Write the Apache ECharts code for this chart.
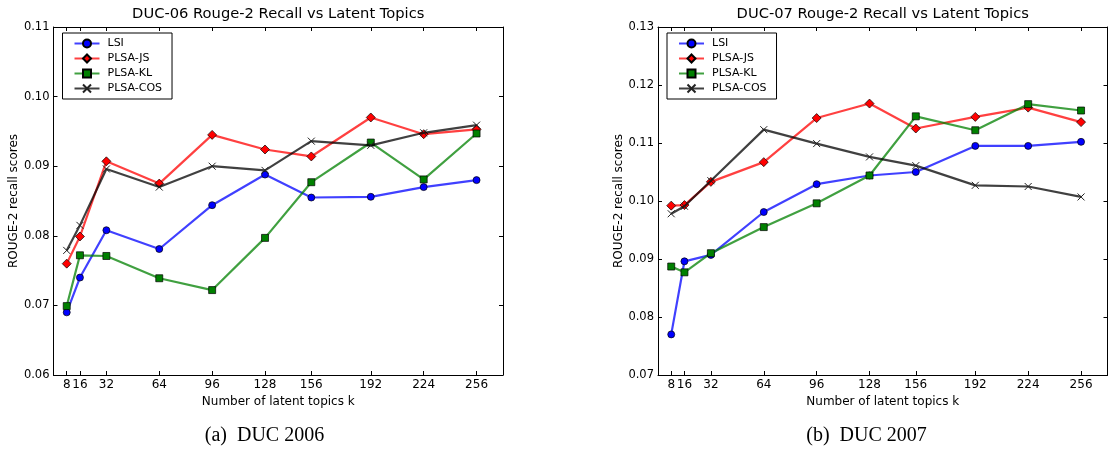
<!DOCTYPE html>
<html>
<head>
<meta charset="utf-8">
<script src="https://cdn.jsdelivr.net/npm/echarts@6/dist/echarts.min.js"></script>
<style>
html,body{margin:0;padding:0;background:#fff;}
#chart{width:1109px;height:450px;}
</style>
</head>
<body>
<div id="chart"></div>
<script>
// ---- data ----
const topics = [8, 16, 32, 64, 96, 128, 156, 192, 224, 256];
const seriesNames = ['LSI', 'PLSA-JS', 'PLSA-KL', 'PLSA-COS'];

// DUC 2006
const duc06_LSI    = [0.0690, 0.0740, 0.0808, 0.0781, 0.0844, 0.0888, 0.0855, 0.0856, 0.0870, 0.0880];
const duc06_PLSAJS = [0.0760, 0.0799, 0.0907, 0.0875, 0.0945, 0.0924, 0.0914, 0.0970, 0.0946, 0.0953];
const duc06_PLSAKL = [0.0699, 0.0772, 0.0771, 0.0739, 0.0722, 0.0797, 0.0877, 0.0934, 0.0881, 0.0947];
const duc06_PLSACOS= [0.0779, 0.0815, 0.0896, 0.0870, 0.0900, 0.0894, 0.0936, 0.0930, 0.0948, 0.0959];

// DUC 2007
const duc07_LSI    = [0.0770, 0.0896, 0.0907, 0.0981, 0.1029, 0.1044, 0.1050, 0.1095, 0.1095, 0.1102];
const duc07_PLSAJS = [0.0992, 0.0993, 0.1033, 0.1067, 0.1143, 0.1168, 0.1125, 0.1145, 0.1161, 0.1136];
const duc07_PLSAKL = [0.0887, 0.0877, 0.0910, 0.0955, 0.0996, 0.1044, 0.1146, 0.1122, 0.1167, 0.1156];
const duc07_PLSACOS= [0.0978, 0.0991, 0.1035, 0.1123, 0.1099, 0.1076, 0.1061, 0.1027, 0.1025, 0.1007];

const titles = ['DUC-06 Rouge-2 Recall vs Latent Topics', 'DUC-07 Rouge-2 Recall vs Latent Topics'];
const captions = ['(a)  DUC 2006', '(b)  DUC 2007'];
const xAxisName = 'Number of latent topics k';
const yAxisName = 'ROUGE-2 recall scores';
const yRanges = [[0.06, 0.11], [0.07, 0.13]];

// ---- styles ----
const FONT = 'DejaVu Sans';
const styles = [
  {color: '#0000ff', symbol: 'circle', size: 7},
  {color: '#ff0000', symbol: 'diamond', size: 9},
  {color: '#008000', symbol: 'rect', size: 7},
  {color: '#000000', symbol: 'path://M0,0L10,10M10,0L0,10', size: 7}
];
const grids = [
  {left: 53.5, top: 27, width: 449.5, height: 348},
  {left: 658, top: 27, width: 449.5, height: 348}
];

const xAxes = [], yAxes = [], series = [];
grids.forEach((g, gi) => {
  const baseX = {
    type: 'value', gridIndex: gi, min: 0, max: 272,
    splitLine: {show: false},
    axisLine: {show: true, onZero: false, lineStyle: {color: '#000', width: 1}},
    axisTick: {show: true, inside: true, length: 4, customValues: topics, lineStyle: {color: '#000'}}
  };
  xAxes.push(Object.assign({}, baseX, {
    position: 'bottom',
    name: xAxisName, nameLocation: 'middle', nameGap: 16,
    nameTextStyle: {fontFamily: FONT, fontSize: 12, color: '#000'},
    axisLabel: {show: true, customValues: topics, margin: 4, fontFamily: FONT, fontSize: 12, color: '#000',
      formatter: v => String(v)}
  }));
  xAxes.push(Object.assign({}, baseX, {position: 'top', axisLabel: {show: false}}));
  const baseY = {
    type: 'value', gridIndex: gi, min: yRanges[gi][0], max: yRanges[gi][1], interval: 0.01,
    splitLine: {show: false},
    axisLine: {show: true, onZero: false, lineStyle: {color: '#000', width: 1}},
    axisTick: {show: true, inside: true, length: 4, lineStyle: {color: '#000'}}
  };
  yAxes.push(Object.assign({}, baseY, {
    position: 'left',
    name: yAxisName, nameLocation: 'middle', nameGap: 33, nameRotate: 90,
    nameTextStyle: {fontFamily: FONT, fontSize: 12, color: '#000'},
    axisLabel: {show: true, margin: 4, fontFamily: FONT, fontSize: 11.5, color: '#000',
      formatter: v => v.toFixed(2)}
  }));
  yAxes.push(Object.assign({}, baseY, {position: 'right', axisLabel: {show: false}}));
});

const allData = [
  [duc06_LSI, duc06_PLSAJS, duc06_PLSAKL, duc06_PLSACOS],
  [duc07_LSI, duc07_PLSAJS, duc07_PLSAKL, duc07_PLSACOS]
];
allData.forEach((set, gi) => {
  set.forEach((vals, si) => {
    const st = styles[si];
    const isX = si === 3;
    series.push({
      type: 'line', name: seriesNames[si],
      xAxisIndex: gi * 2, yAxisIndex: gi * 2,
      data: topics.map((t, i) => [t, vals[i]]),
      symbol: st.symbol, symbolSize: st.size,
      showSymbol: true, animation: false,
      lineStyle: {color: st.color, width: 2.2, opacity: 0.75},
      itemStyle: isX
        ? {color: 'rgba(0,0,0,0)', borderColor: '#222', borderWidth: 1}
        : {color: st.color, borderColor: '#000', borderWidth: 0.7},
      emphasis: {disabled: true},
      z: 2 + si
    });
  });
});

const legends = grids.map((g, gi) => ({
  orient: 'vertical',
  left: g.left + 9, top: 33,
  padding: [5, 10, 5, 11],
  itemWidth: 25, itemHeight: 10, itemGap: 4,
  borderColor: '#000', borderWidth: 1, borderRadius: 0,
  backgroundColor: '#fff',
  textStyle: {fontFamily: FONT, fontSize: 11, color: '#000', lineHeight: 11, padding: [0, 0, 0, 3]},
  data: seriesNames,
  selectedMode: false
}));

const titleArr = [];
grids.forEach((g, gi) => {
  titleArr.push({
    text: titles[gi], left: g.left + g.width / 2, top: 7, textAlign: 'center', padding: 0,
    textStyle: {fontFamily: FONT, fontSize: 14.7, fontWeight: 'normal', color: '#000'}
  });
});
titleArr.push({
  text: captions[0], left: 264.5, top: 426, textAlign: 'center', padding: 0,
  textStyle: {fontFamily: 'Liberation Serif', fontSize: 20, fontWeight: 'normal', color: '#000'}
});
titleArr.push({
  text: captions[1], left: 866.5, top: 426, textAlign: 'center', padding: 0,
  textStyle: {fontFamily: 'Liberation Serif', fontSize: 20, fontWeight: 'normal', color: '#000'}
});

const chart = echarts.init(document.getElementById('chart'), null, {renderer: 'canvas'});
chart.setOption({
  animation: false,
  backgroundColor: '#fff',
  title: titleArr,
  legend: legends,
  grid: grids,
  xAxis: xAxes,
  yAxis: yAxes,
  series: series
});
</script>
</body>
</html>
